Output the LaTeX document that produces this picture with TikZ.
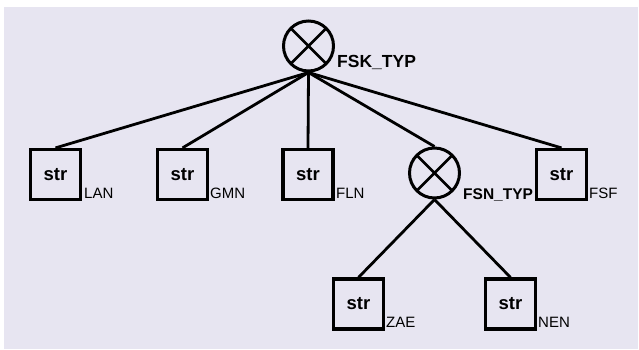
\documentclass[tikz,border=0pt]{standalone}
\usepackage{fontspec}
\setmainfont{Liberation Sans}
\definecolor{bgcol}{RGB}{231,229,241}
\begin{document}
\begin{tikzpicture}[x=1pt,y=-1pt,
  xcirc/.style={circle,draw,line width=3pt,minimum size=50pt,inner sep=0pt,
    path picture={\draw[line width=2.8pt] (path picture bounding box.north east)--(path picture bounding box.south west)
      (path picture bounding box.north west)--(path picture bounding box.south east);}},
  strbox/.style={rectangle,draw,line width=3.2pt,minimum size=50pt,inner sep=0pt,
    font=\fontsize{18.5}{20}\selectfont\bfseries},
  sublab/.style={anchor=base west,inner sep=0pt,font=\fontsize{15}{17}\selectfont},
  typlab/.style={anchor=base west,inner sep=0pt,font=\fontsize{17.5}{19}\selectfont\bfseries},
  typlabs/.style={anchor=base west,inner sep=0pt,font=\fontsize{15.5}{17}\selectfont\bfseries},
  edge/.style={line width=2.8pt}]
\useasboundingbox (0,0) rectangle (639,349);
\fill[bgcol] (4,7) rectangle (638,349);
% nodes
\node[xcirc] (fsk) at (308.5,46) {};
\node[typlab] (fsklab) at (337,67) {FSK\_TYP};
\node[strbox] (lan) at (55.5,174.5) {\raisebox{-2pt}{str}};
\node[strbox] (gmn) at (182.5,174.5) {\raisebox{-2pt}{str}};
\node[strbox] (fln) at (308,174.5) {\raisebox{-2pt}{str}};
\node[xcirc] (fsn) at (434.5,173) {};
\node[typlabs] (fsnlab) at (463,199) {FSN\_TYP};
\node[strbox] (fsf) at (561.5,174.5) {\raisebox{-2pt}{str}};
\node[strbox] (zae) at (358.5,304) {\raisebox{-2pt}{str}};
\node[strbox] (nen) at (510.5,304) {\raisebox{-2pt}{str}};
% sub labels
\node[sublab] at (84,198) {LAN};
\node[sublab] at (210,198) {GMN};
\node[sublab] at (336,198) {FLN};
\node[sublab] at (589,198) {FSF};
\node[sublab] at (386,327) {ZAE};
\node[sublab] at (538,327) {NEN};
% edges
\draw[edge] (fsk.south) -- (lan.north);
\draw[edge] (fsk.south) -- (gmn.north);
\draw[edge] (fsk.south) -- (fln.north);
\draw[edge] (fsk.south) -- (fsn.north);
\draw[edge] (fsk.south) -- (fsf.north);
\draw[edge] (fsn.south) -- (zae.north);
\draw[edge] (fsn.south) -- (nen.north);
\end{tikzpicture}
\end{document}
